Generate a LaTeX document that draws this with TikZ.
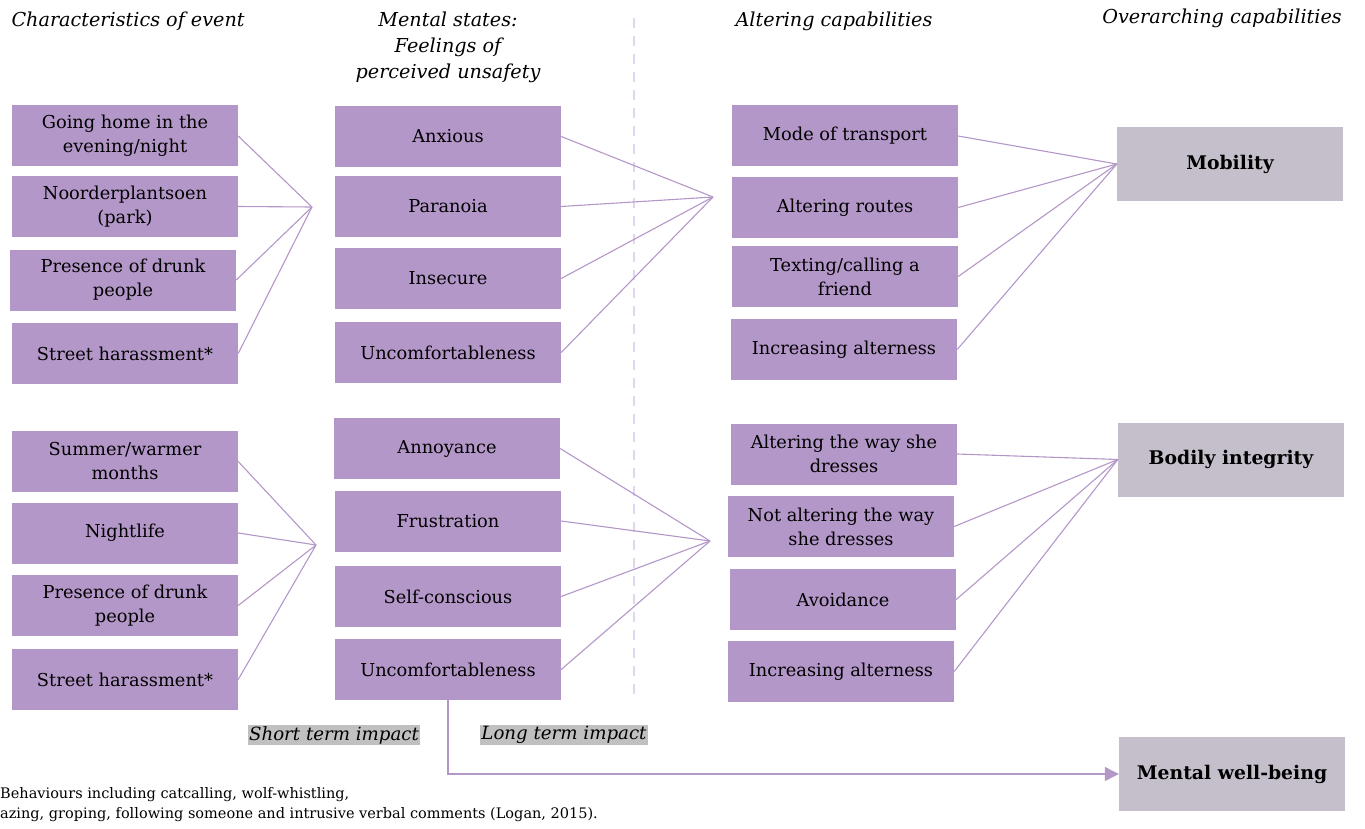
\documentclass[tikz,border=0pt]{standalone}
\usepackage{fontspec}
\setmainfont{DejaVu Serif}
\usetikzlibrary{arrows.meta,positioning}

\definecolor{lilac}{HTML}{B497C9}
\definecolor{greybox}{HTML}{C5BFCB}
\definecolor{dashlilac}{HTML}{E2D6EE}
\definecolor{taggrey}{HTML}{C0C0C0}

\tikzset{
	factor/.style={fill=lilac, minimum width=226pt, minimum height=61pt, inner sep=0pt,
		align=center, font=\fontsize{17.8}{24}\selectfont},
	capability/.style={fill=greybox, minimum width=226pt, minimum height=74pt, inner sep=0pt,
		font=\bfseries\fontsize{18.8}{24}\selectfont},
	heading/.style={align=center, font=\itshape\fontsize{19.2}{26}\selectfont},
	impact/.style={fill=taggrey, inner sep=1.5pt, font=\itshape\fontsize{18.2}{22}\selectfont},
	link/.style={lilac, line width=1.1pt},
}

\begin{document}
\begin{tikzpicture}[x=1pt, y=-1pt]
	\useasboundingbox (0,0) rectangle (1365,829);

	% column headings
	\node[heading, anchor=west] (h1) at (8,21) {Characteristics of event};
	\node[heading] (h2) at (448,47) {Mental states:\\Feelings of\\perceived unsafety};
	\node[heading] (h3) at (834,21) {Altering capabilities};
	\node[heading] (h4) at (1222,18) {Overarching capabilities};

	\draw[dashlilac, line width=1.5pt, dash pattern=on 10pt off 8pt] (634,18) -- (634,695);

	% characteristics of event
	\node[factor] (c1) at (125,136) {Going home in the\\evening/night};
	\node[factor] (c2) at (125,206.5) {Noorderplantsoen\\(park)};
	\node[factor] (c3) at (123,280) {Presence of drunk\\people};
	\node[factor] (c4) at (125,353.5) {Street harassment*};
	\node[factor] (c5) at (125,461.5) {Summer/warmer\\months};
	\node[factor] (c6) at (125,533) {Nightlife};
	\node[factor] (c7) at (125,605.5) {Presence of drunk\\people};
	\node[factor] (c8) at (125,679.5) {Street harassment*};

	% mental states
	\node[factor] (m1) at (448,136.5) {Anxious};
	\node[factor] (m2) at (448,206.5) {Paranoia};
	\node[factor] (m3) at (448,278.5) {Insecure};
	\node[factor] (m4) at (448,352.5) {Uncomfortableness};
	\node[factor] (m5) at (447,448.5) {Annoyance};
	\node[factor] (m6) at (448,521) {Frustration};
	\node[factor] (m7) at (448,596.5) {Self-conscious};
	\node[factor] (m8) at (448,669.5) {Uncomfortableness};

	% altering capabilities
	\node[factor] (a1) at (845,136) {Mode of transport};
	\node[factor] (a2) at (845,207.5) {Altering routes};
	\node[factor] (a3) at (845,276.5) {Texting/calling a\\friend};
	\node[factor] (a4) at (844,349.5) {Increasing alterness};
	\node[factor] (a5) at (844,454) {Altering the way she\\dresses};
	\node[factor] (a6) at (841,526.5) {Not altering the way\\she dresses};
	\node[factor] (a7) at (843,599.5) {Avoidance};
	\node[factor] (a8) at (841,671.5) {Increasing alterness};

	% overarching capabilities
	\node[capability] (mobility) at (1230,164) {Mobility};
	\node[capability] (bodily) at (1231,459.5) {Bodily integrity};
	\node[capability] (wellbeing) at (1232,774) {Mental well-being};

	% meeting points
	\coordinate (j1) at (312,207);
	\coordinate (j2) at (316,545);
	\coordinate (j3) at (713,197);
	\coordinate (j4) at (710,541);

	\foreach \n in {c1,c2,c3,c4} \draw[link] (\n.east) -- (j1);
	\foreach \n in {c5,c6,c7,c8} \draw[link] (\n.east) -- (j2);
	\foreach \n in {m1,m2,m3,m4} \draw[link] (\n.east) -- (j3);
	\foreach \n in {m5,m6,m7,m8} \draw[link] (\n.east) -- (j4);
	\foreach \n in {a1,a2,a3,a4} \draw[link] (\n.east) -- (mobility.west);
	\foreach \n in {a5,a6,a7,a8} \draw[link] (\n.east) -- (bodily.west);

	\draw[link, -{Triangle[length=14pt, width=14pt]}] (m8.south) |- (wellbeing.west);

	\node[impact] (short) at (334,735) {Short term impact};
	\node[impact] (long) at (564,735) {Long term impact};

	% footnote
	\node[anchor=north west, inner sep=0pt, align=left, font=\fontsize{14.5}{20}\selectfont] (note) at (0,787)
		{Behaviours including catcalling, wolf-whistling,\\azing, groping, following someone and intrusive verbal comments (Logan, 2015).};
\end{tikzpicture}
\end{document}
